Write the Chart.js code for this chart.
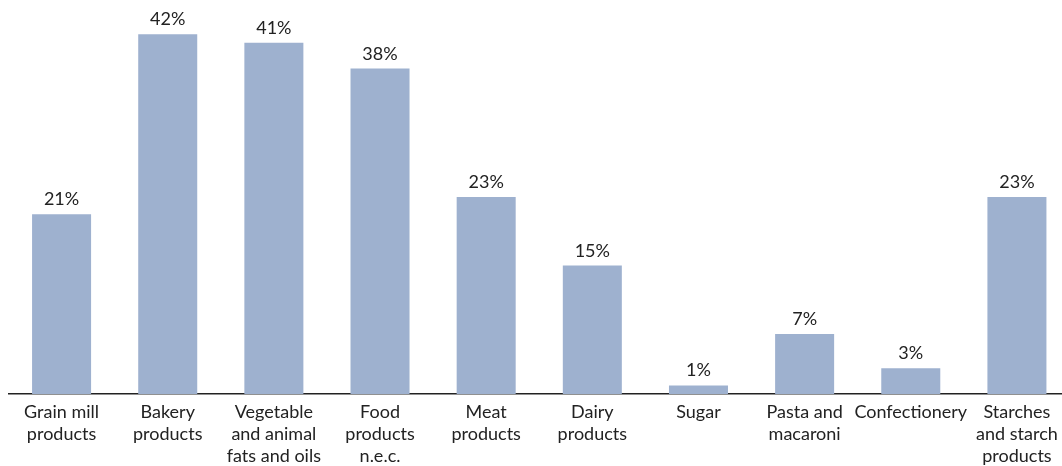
<!DOCTYPE html>
<html>
<head>
<meta charset="utf-8">
<script src="https://cdn.jsdelivr.net/npm/chart.js@4"></script>
<style>
  html, body { margin: 0; padding: 0; background: #fff; overflow: hidden; }
  #wrap { width: 1070px; height: 466px; }
</style>
</head>
<body>
<div id="wrap"><canvas id="shareChart"></canvas></div>
<script>
const categories = [
  ['Grain mill', 'products'],
  ['Bakery', 'products'],
  ['Vegetable', 'and animal', 'fats and oils'],
  ['Food', 'products', 'n.e.c.'],
  ['Meat', 'products'],
  ['Dairy', 'products'],
  ['Sugar'],
  ['Pasta and', 'macaroni'],
  ['Confectionery'],
  ['Starches', 'and starch', 'products']
];
const shares = [21, 42, 41, 38, 23, 15, 1, 7, 3, 23];

const FONT = 'Lato, "Open Sans", sans-serif';

// writes the percentage above each bar
const valueLabels = {
  id: 'valueLabels',
  afterDatasetsDraw(chart) {
    const c = chart.ctx;
    const meta = chart.getDatasetMeta(0);
    c.save();
    c.font = '18px ' + FONT;
    c.fillStyle = '#222';
    c.textAlign = 'center';
    c.textBaseline = 'alphabetic';
    meta.data.forEach((bar, i) => {
      c.fillText(shares[i] + '%', bar.x, bar.y - 9);
    });
    c.restore();
  }
};

new Chart(document.getElementById('shareChart'), {
  type: 'bar',
  data: {
    labels: categories,
    datasets: [{
      data: shares,
      backgroundColor: '#9eb1cf',
      categoryPercentage: 1.0,
      barPercentage: 0.556
    }]
  },
  options: {
    responsive: true,
    maintainAspectRatio: false,
    animation: false,
    layout: { padding: { left: 8.5, right: 0, top: 0, bottom: -8 } },
    plugins: {
      legend: { display: false },
      tooltip: { enabled: false }
    },
    scales: {
      x: {
        grid: { display: false, drawTicks: false },
        border: { display: true, color: '#222', width: 1.5 },
        ticks: {
          color: '#222',
          font: { family: FONT, size: 18, lineHeight: '22px' },
          padding: 7,
          maxRotation: 0,
          autoSkip: false
        }
      },
      y: {
        display: false,
        min: 0,
        max: 46
      }
    }
  },
  plugins: [valueLabels]
});
</script>
</body>
</html>
